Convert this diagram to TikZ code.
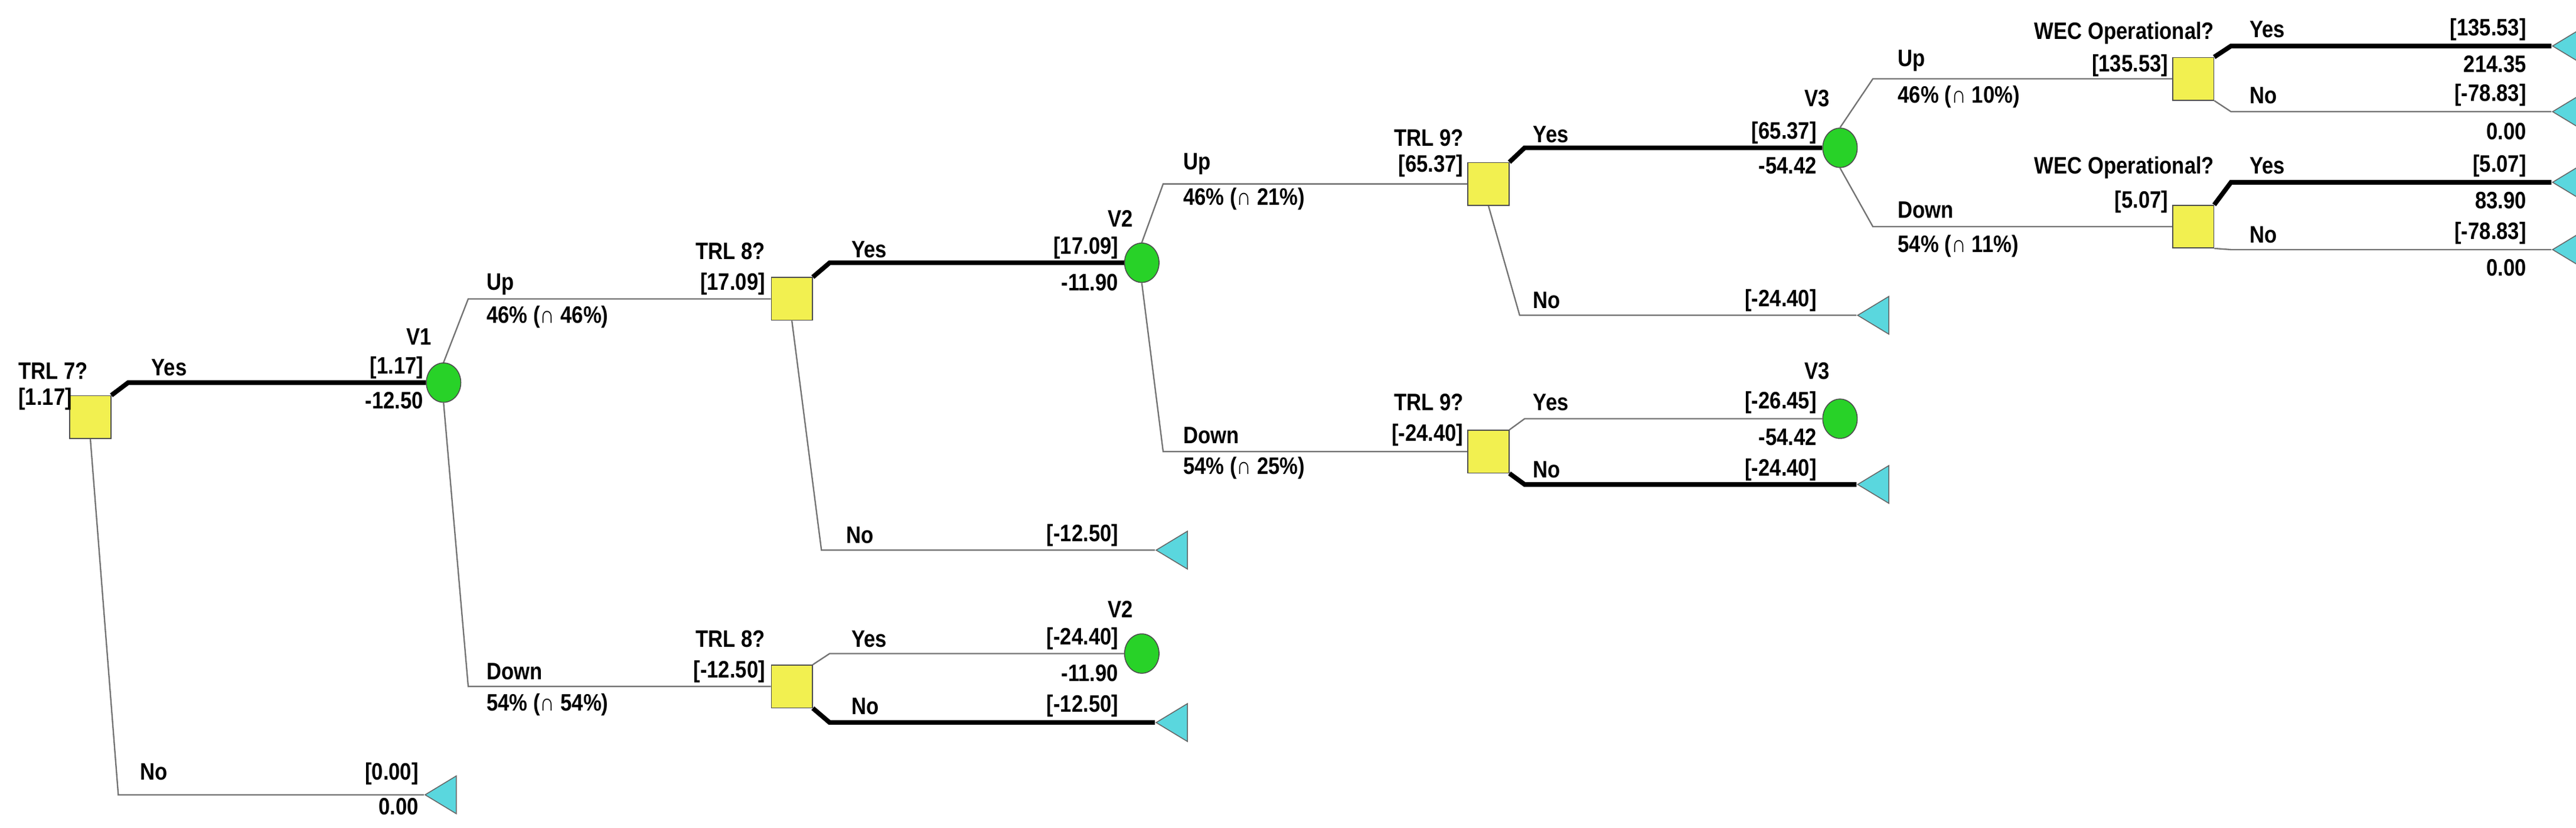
\documentclass[tikz,border=0pt]{standalone}
\usepackage{fontspec}
\setmainfont{Liberation Sans}[FakeStretch=0.86]
\usetikzlibrary{shapes.geometric}
\definecolor{tcol}{RGB}{90,215,222}
\definecolor{ccol}{RGB}{40,210,40}
\definecolor{dcol}{RGB}{242,240,80}
\begin{document}
\begin{tikzpicture}[x=0.25mm,y=-0.25mm,
  dec/.style={draw=black!70,fill=dcol,minimum width=25*0.25mm,minimum height=26*0.25mm,inner sep=0,line width=0.4pt},
  chn/.style={ellipse,draw=black!70,fill=ccol,minimum width=21*0.25mm,minimum height=24*0.25mm,inner sep=0,line width=0.4pt},
  term/.style={isosceles triangle,shape border rotate=180,isosceles triangle stretches=true,draw=black!60,fill=tcol,minimum width=23*0.25mm,minimum height=19*0.25mm,inner sep=0,anchor=apex,line width=0.4pt},
  thin/.style={draw=black!55,line width=0.6pt},
  thick/.style={draw=black,line width=2pt},
  L/.style={font=\bfseries\fontsize{10.3}{12}\selectfont,anchor=west,inner sep=0},
  R/.style={font=\bfseries\fontsize{10.3}{12}\selectfont,anchor=east,inner sep=0}]
\useasboundingbox (0,0) rectangle (1568,504);
% nodes
\node[dec] (t7) at (55,254) {};
\node[chn] (v1) at (270,233) {};
\node[term] (n7) at (258,484) {};
\node[dec] (t8a) at (482,182) {};
\node[dec] (t8b) at (482,418) {};
\node[chn] (v2a) at (695,160) {};
\node[term] (n8a) at (703,335) {};
\node[chn] (v2b) at (695,398) {};
\node[term] (n8b) at (703,440) {};
\node[dec] (t9a) at (906,112) {};
\node[dec] (t9b) at (906,275) {};
\node[chn] (v3a) at (1120,90) {};
\node[term] (n9a) at (1130,192) {};
\node[chn] (v3b) at (1120,255) {};
\node[term] (n9b) at (1130,295) {};
\node[dec] (wa) at (1335,48) {};
\node[dec] (wb) at (1335,138) {};
\node[term] (ya) at (1553,28) {};
\node[term] (na) at (1553,68) {};
\node[term] (yb) at (1553,111) {};
\node[term] (nb) at (1553,152) {};
% connectors
\draw[thick] (t7.north east) -- (78,233) -- (v1.west);
\draw[thin] (t7.south) -- (72,484) -- (n7.apex);
\draw[thin] (v1.north) -- (285,182) -- (t8a.west);
\draw[thin] (v1.south) -- (285,418) -- (t8b.west);
\draw[thick] (t8a.north east) -- (505,160) -- (v2a.west);
\draw[thin] (t8a.south) -- (500,335) -- (n8a.apex);
\draw[thin] (t8b.north east) -- (505,398) -- (v2b.west);
\draw[thick] (t8b.south east) -- (505,440) -- (n8b.apex);
\draw[thin] (v2a.north) -- (708,112) -- (t9a.west);
\draw[thin] (v2a.south) -- (708,275) -- (t9b.west);
\draw[thick] (t9a.north east) -- (928,90) -- (v3a.west);
\draw[thin] (t9a.south) -- (925,192) -- (n9a.apex);
\draw[thin] (t9b.north east) -- (928,255) -- (v3b.west);
\draw[thick] (t9b.south east) -- (928,295) -- (n9b.apex);
\draw[thin] (v3a.north) -- (1140,48) -- (wa.west);
\draw[thin] (v3a.south) -- (1140,138) -- (wb.west);
\draw[thick] (wa.north east) -- (1358,28) -- (ya.apex);
\draw[thin] (wa.south east) -- (1358,68) -- (na.apex);
\draw[thick] (wb.north east) -- (1358,111) -- (yb.apex);
\draw[thin] (wb.south east) -- (1358,152) -- (nb.apex);
% labels
\node[L] (a1) at (11,226) {TRL 7?};
\node[L] (a2) at (11,243) {[1.17]};
\node[L] (a3) at (92,224) {Yes};
\node[R] (a4) at (258,224) {[1.17]};
\node[R] (a5) at (258,244) {-12.50};
\node[R] (a6) at (263,205) {V1};
\node[L] (a7) at (85,470) {No};
\node[R] (a8) at (255,471) {[0.00]};
\node[R] (a9) at (255,491) {0.00};
\node[L] (b1) at (296,173) {Up};
\node[L] (b2) at (296,193) {46\% (∩ 46\%)};
\node[L] (b3) at (296,409) {Down};
\node[L] (b4) at (296,429) {54\% (∩ 54\%)};
\node[R] (c1) at (466,153) {TRL 8?};
\node[R] (c2) at (466,173) {[17.09]};
\node[L] (c3) at (518,152) {Yes};
\node[R] (c4) at (681,151) {[17.09]};
\node[R] (c5) at (681,172) {-11.90};
\node[R] (c6) at (690,133) {V2};
\node[L] (c7) at (515,326) {No};
\node[R] (c8) at (681,326) {[-12.50]};
\node[R] (d1) at (466,389) {TRL 8?};
\node[R] (d2) at (466,409) {[-12.50]};
\node[L] (d3) at (518,389) {Yes};
\node[R] (d4) at (681,389) {[-24.40]};
\node[R] (d5) at (681,410) {-11.90};
\node[R] (d6) at (690,371) {V2};
\node[L] (d7) at (518,430) {No};
\node[R] (d8) at (681,430) {[-12.50]};
\node[L] (e1) at (720,100) {Up};
\node[L] (e2) at (720,121) {46\% (∩ 21\%)};
\node[L] (e3) at (720,265) {Down};
\node[L] (e4) at (720,285) {54\% (∩ 25\%)};
\node[R] (f1) at (891,84) {TRL 9?};
\node[R] (f2) at (891,101) {[65.37]};
\node[L] (f3) at (933,82) {Yes};
\node[R] (f4) at (1106,81) {[65.37]};
\node[R] (f5) at (1106,101) {-54.42};
\node[R] (f6) at (1114,60) {V3};
\node[L] (f7) at (933,183) {No};
\node[R] (f8) at (1106,183) {[-24.40]};
\node[R] (g1) at (891,245) {TRL 9?};
\node[R] (g2) at (891,265) {[-24.40]};
\node[L] (g3) at (933,245) {Yes};
\node[R] (g4) at (1106,245) {[-26.45]};
\node[R] (g5) at (1106,266) {-54.42};
\node[R] (g6) at (1114,226) {V3};
\node[L] (g7) at (933,286) {No};
\node[R] (g8) at (1106,286) {[-24.40]};
\node[L] (h1) at (1155,37) {Up};
\node[L] (h2) at (1155,59) {46\% (∩ 10\%)};
\node[L] (h3) at (1155,128) {Down};
\node[L] (h4) at (1155,150) {54\% (∩ 11\%)};
\node[R] (i1) at (1348,20) {WEC Operational?};
\node[R] (i2) at (1320,40) {[135.53]};
\node[L] (i3) at (1369,18) {Yes};
\node[R] (i4) at (1538,18) {[135.53]};
\node[R] (i5) at (1538,39) {214.35};
\node[L] (i6) at (1369,58) {No};
\node[R] (i7) at (1538,58) {[-78.83]};
\node[R] (i8) at (1538,80) {0.00};
\node[R] (j1) at (1348,102) {WEC Operational?};
\node[R] (j2) at (1320,123) {[5.07]};
\node[L] (j3) at (1369,101) {Yes};
\node[R] (j4) at (1538,101) {[5.07]};
\node[R] (j5) at (1538,122) {83.90};
\node[L] (j6) at (1369,143) {No};
\node[R] (j7) at (1538,142) {[-78.83]};
\node[R] (j8) at (1538,163) {0.00};
\end{tikzpicture}
\end{document}
